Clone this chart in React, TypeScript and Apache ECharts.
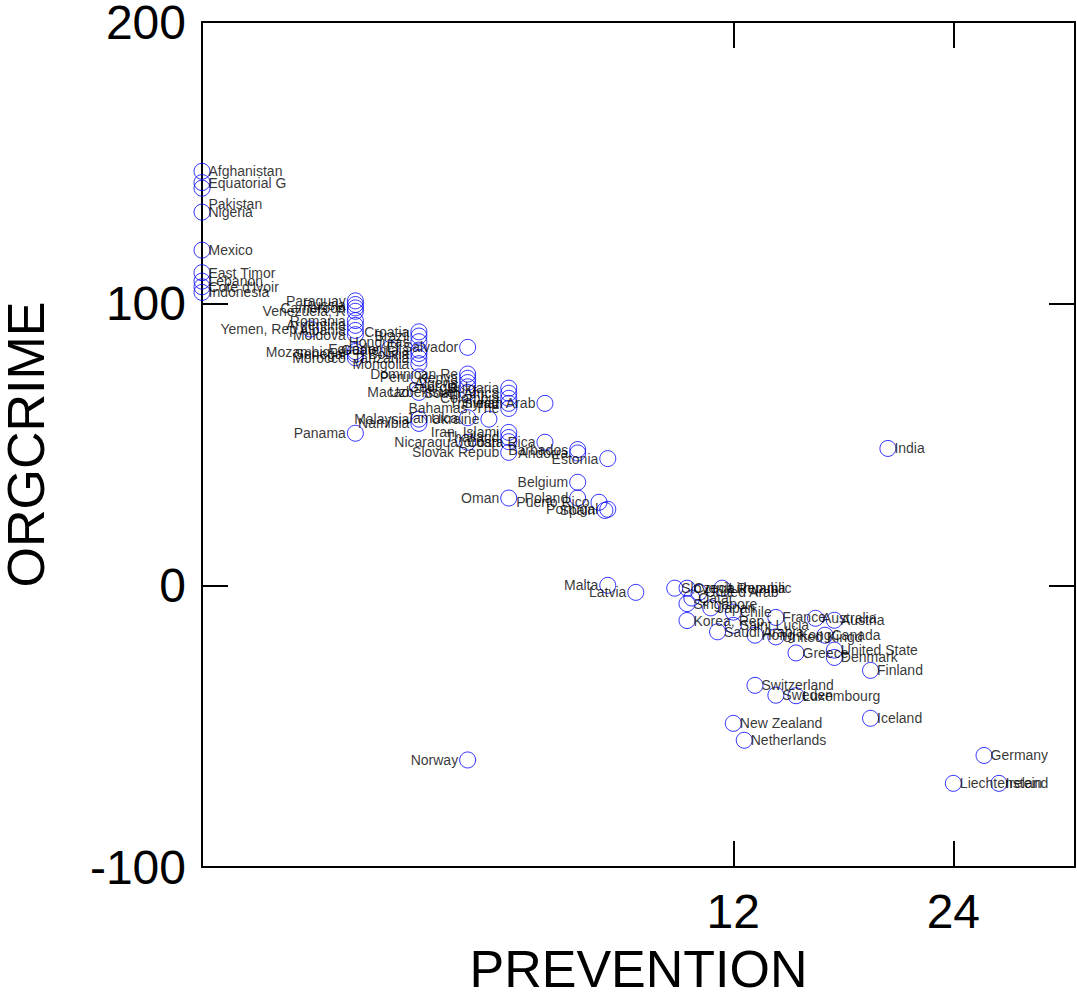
import React, { useEffect, useRef } from "react";
import * as echarts from "echarts";

// ---- data ----
const NAMES = [
  "Afghanistan", "Equatorial G", "Pakistan", "Nigeria", "Mexico", "East Timor", "Lebanon", "Cote d'Ivoir", "Indonesia",
  "Yemen, Rep.",
  "Paraguay", "Russia", "Cameroon", "Venezuela, R", "Romania", "Argentina", "Albania", "Moldova", "Mozambique", "Senegal", "Morocco", "Panama",
  "Ecuador",
  "Croatia", "Brazil", "Honduras", "Guatemala", "Bolivia", "Tanzania", "Mongolia", "Peru", "Macao", "Malaysia", "Namibia",
  "El Salvador", "Dominican Re", "Kenya", "Algeria", "Georgia", "Uzbekistan", "Jamaica", "Nicaragua",
  "Ukraine",
  "Bulgaria", "South Africa", "Colombia", "Trinidad", "Bahamas, The", "Iran, Islami", "Thailand", "Jordan", "Slovak Repub", "Oman",
  "Syrian Arab", "Costa Rica",
  "Barbados", "Andorra", "Belgium", "Poland", "Puerto Rico",
  "Estonia", "Portugal", "Spain", "Malta", "Latvia",
  "Slovenia", "Czech Republic", "United Arab", "Lithuania", "Qatar", "Singapore", "Japan", "Chile", "Korea, Rep.",
  "Saudi Arabia", "Saint Lucia", "Hong Kong", "France", "United Kingd", "Greece", "Australia", "Austria", "Canada",
  "United State", "Denmark", "Finland", "Switzerland", "Sweden", "Luxembourg", "New Zealand", "Netherlands", "Iceland",
  "Germany", "Liechtenstein", "Ireland", "India", "Norway",
];

const PREVENTION = [
  0, 0, 0, 0, 0, 0, 0, 0, 0,
  0.5,
  1, 1, 1, 1, 1, 1, 1, 1, 1, 1, 1, 1,
  1.5,
  2, 2, 2, 2, 2, 2, 2, 2, 2, 2, 2,
  3, 3, 3, 3, 3, 3, 3, 3,
  3.5,
  4, 4, 4, 4, 4, 4, 4, 4, 4, 4,
  5, 5,
  6, 6, 6, 6, 6.7,
  7, 7, 6.9, 7, 8,
  9.5, 10, 10.5, 11.5, 10.2, 10, 11, 12, 10,
  11.3, 12, 13, 14, 14, 15, 16, 17, 16.5,
  17, 17, 19, 13, 14, 15, 12, 12.5, 19,
  26, 24, 27, 20, 3,
];

const ORGCRIME = [
  147, 143, 141, 132.5, 119, 111, 108, 106, 104,
  91,
  101, 99.7, 98.5, 97.3, 94, 92.3, 90.5, 89, 83, 82, 80.8, 54,
  84,
  90, 88.5, 86.5, 83.5, 82.3, 80.7, 78.7, 74, 68.5, 59, 57.5,
  84.5, 75, 73.5, 72, 70.5, 68.5, 59.5, 50.8,
  59,
  70, 68.2, 66.4, 64.6, 62.8, 54.3, 52.5, 51, 47.2, 31,
  64.6, 50.8,
  48.2, 47, 36.6, 31, 29.5,
  45, 27, 26.6, 0, -2.5,
  -1, -1, -2.5, -1, -4.5, -6.5, -8, -9.5, -12.5,
  -16.5, -14.2, -17.7, -11.4, -18.3, -24, -11.7, -12.4, -17.7,
  -23, -25.6, -30.2, -35.5, -39, -39.2, -49, -55, -47.2,
  -60.4, -70.3, -70.3, 48.6, -62,
];

const LEFT_LABELLED = [
  "Yemen, Rep.", "Paraguay", "Russia", "Cameroon", "Venezuela, R", "Romania", "Argentina", "Albania", "Moldova",
  "Mozambique", "Senegal", "Morocco", "Panama", "Ecuador", "Croatia", "Brazil", "Honduras", "Guatemala", "Bolivia",
  "Tanzania", "Mongolia", "Peru", "Macao", "Malaysia", "Namibia", "El Salvador", "Dominican Re", "Kenya", "Algeria",
  "Georgia", "Uzbekistan", "Jamaica", "Nicaragua", "Ukraine", "Bulgaria", "South Africa", "Colombia", "Trinidad",
  "Bahamas, The", "Iran, Islami", "Thailand", "Jordan", "Slovak Repub", "Oman", "Syrian Arab", "Costa Rica",
  "Barbados", "Andorra", "Belgium", "Poland", "Puerto Rico", "Estonia", "Portugal", "Spain", "Malta", "Latvia", "Norway",
];

const X_TICKS = [12, 24];
const X_MAX = 32.4;
const Y_MIN = -100;
const Y_MAX = 200;
const Y_STEP = 100;

const FONT = "'Liberation Sans', Arial, Helvetica, sans-serif";

export default function App() {
  const ref = useRef<HTMLDivElement>(null);

  useEffect(() => {
    if (!ref.current) return;
    const chart = echarts.init(ref.current, null, { renderer: "svg" });

    const sq = (v: number) => Math.sqrt(v);
    const tickVals = X_TICKS.map(sq);

    const data = NAMES.map((n, i) => {
      const left = LEFT_LABELLED.includes(n);
      return {
        name: n,
        value: [sq(PREVENTION[i]), ORGCRIME[i]],
        label: left ? { position: "left", distance: 1 } : { position: "right", distance: -2 },
      };
    });

    const pakIdx = NAMES.indexOf("Pakistan");

    const tickStyle = { show: true, inside: true, length: 26, lineStyle: { color: "#000", width: 2 } };
    const lineStyle = { show: true, onZero: false, lineStyle: { color: "#000", width: 2 } };

    chart.setOption({
      animation: false,
      backgroundColor: "#fff",
      grid: { left: 202, right: 2, top: 22, bottom: 127, containLabel: false, outerBoundsMode: "none" },
      xAxis: [
        {
          type: "value",
          min: 0,
          max: sq(X_MAX),
          position: "bottom",
          axisLine: lineStyle,
          axisTick: { ...tickStyle, customValues: tickVals },
          splitLine: { show: false },
          axisLabel: {
            customValues: tickVals,
            formatter: (v: number) => String(Math.round(v * v)),
            fontSize: 48,
            color: "#000",
            fontFamily: FONT,
            margin: 20,
          },
          name: "PREVENTION",
          nameLocation: "middle",
          nameGap: 76,
          nameTextStyle: { fontSize: 52, color: "#000", fontFamily: FONT },
        },
        {
          type: "value",
          min: 0,
          max: sq(X_MAX),
          position: "top",
          axisLine: lineStyle,
          axisTick: { ...tickStyle, customValues: tickVals },
          splitLine: { show: false },
          axisLabel: { show: false },
        },
      ],
      yAxis: [
        {
          type: "value",
          min: Y_MIN,
          max: Y_MAX,
          interval: Y_STEP,
          position: "left",
          axisLine: lineStyle,
          axisTick: tickStyle,
          splitLine: { show: false },
          axisLabel: { fontSize: 48, color: "#000", fontFamily: FONT, margin: 16 },
          name: "ORGCRIME",
          nameLocation: "middle",
          nameGap: 150,
          nameRotate: 90,
          nameTextStyle: { fontSize: 52, color: "#000", fontFamily: FONT },
        },
        {
          type: "value",
          min: Y_MIN,
          max: Y_MAX,
          interval: Y_STEP,
          position: "right",
          axisLine: lineStyle,
          axisTick: tickStyle,
          splitLine: { show: false },
          axisLabel: { show: false },
        },
      ],
      series: [
        {
          type: "scatter",
          xAxisIndex: 0,
          yAxisIndex: 0,
          symbol: "circle",
          symbolSize: 16,
          itemStyle: { color: "rgba(0,0,0,0)", borderColor: "#0000ff", borderWidth: 1 },
          label: {
            show: true,
            formatter: "{b}",
            color: "#000",
            fontSize: 14,
            fontFamily: FONT,
          },
          labelLayout: (p: any) => (p.dataIndex === pakIdx ? { dy: 16 } : {}),
          emphasis: { disabled: true },
          data,
        },
      ],
    });

    return () => chart.dispose();
  }, []);

  return (
    <div
      ref={ref}
      style={{ position: "fixed", left: 0, top: 0, width: 1077, height: 994, background: "#fff" }}
    />
  );
}
